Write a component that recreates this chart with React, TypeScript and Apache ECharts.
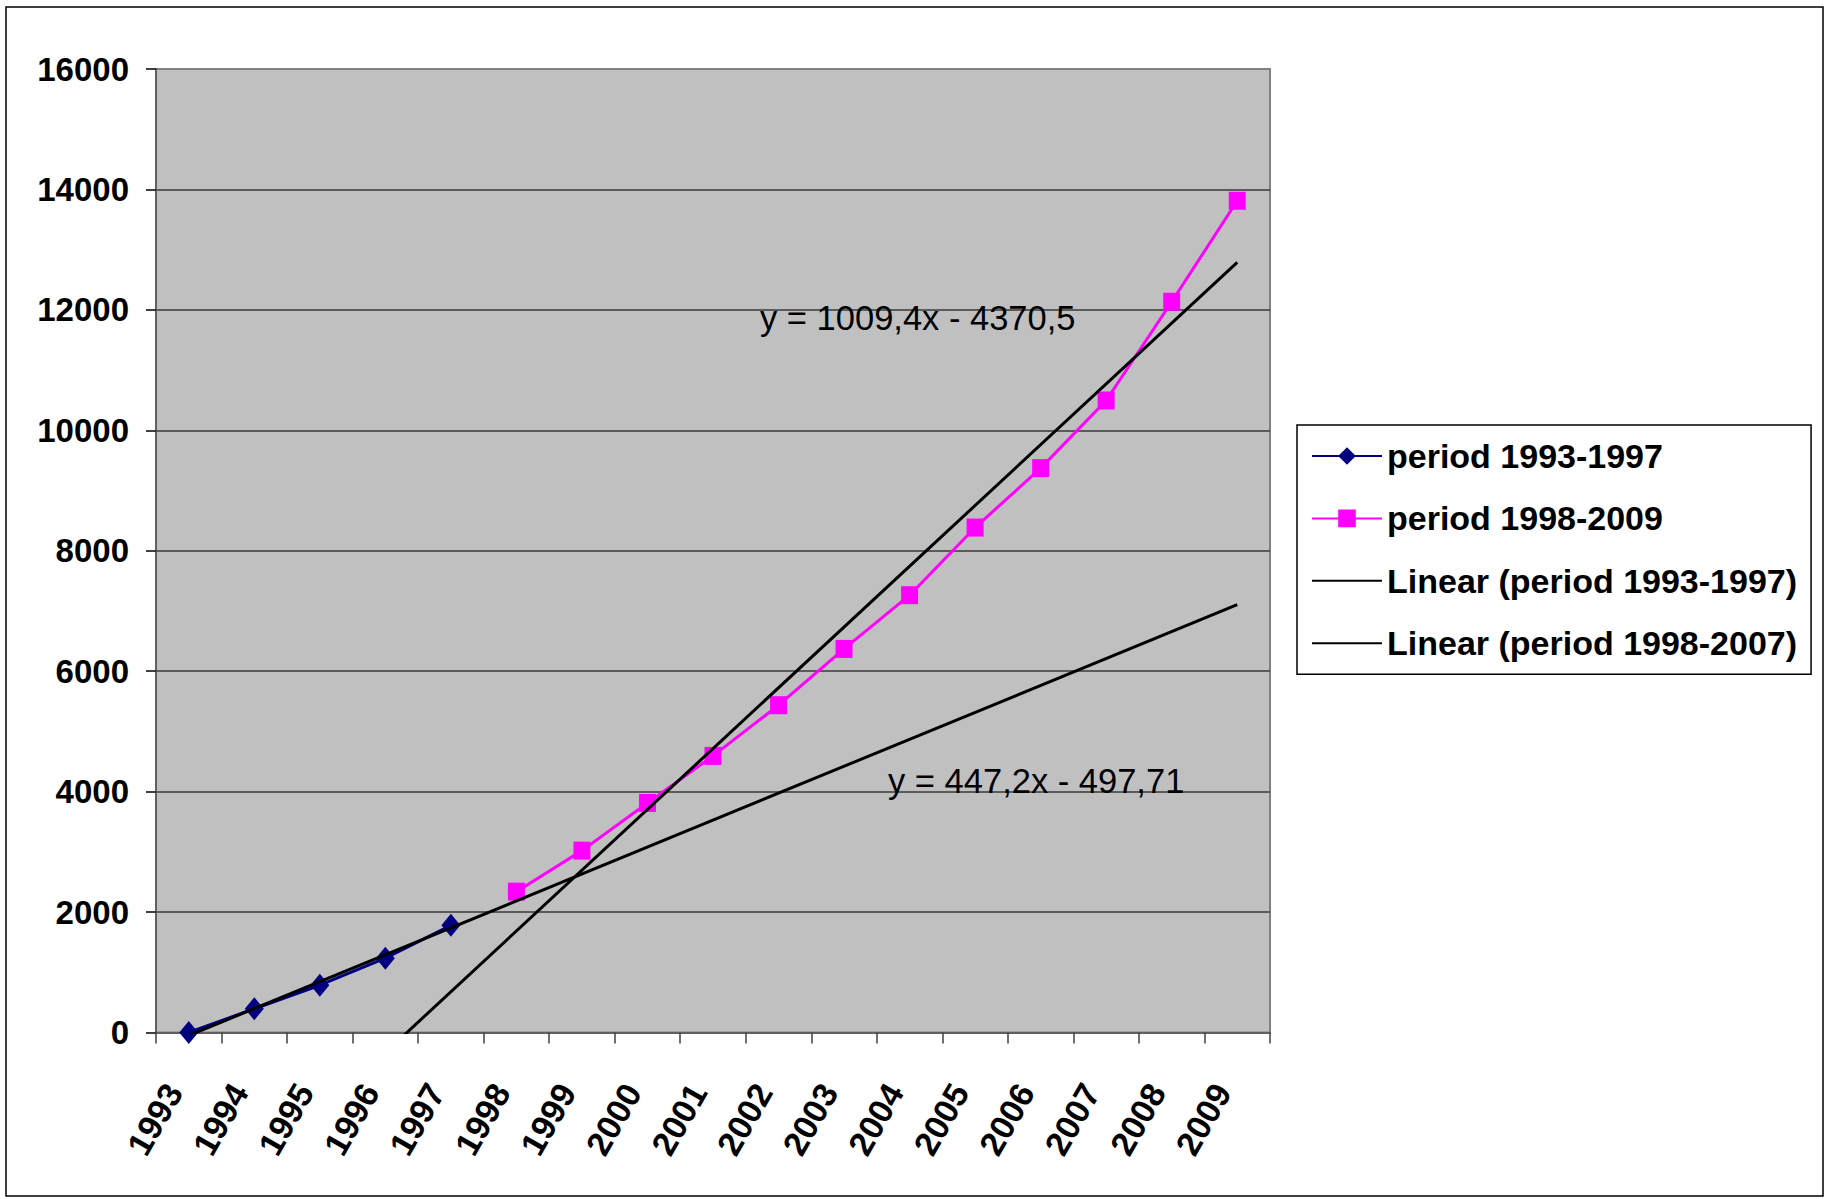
import { useEffect, useRef } from "react";
import * as echarts from "echarts";

const years = ["1993", "1994", "1995", "1996", "1997", "1998", "1999", "2000", "2001", "2002", "2003", "2004", "2005", "2006", "2007", "2008", "2009"];
const period1Values = [0, 395, 785, 1235, 1780];
const period2Values = [2339, 3020, 3812, 4593, 5435, 6370, 7262, 8385, 9372, 10495, 12135, 13812];
const seriesNames = ["period 1993-1997", "period 1998-2009", "Linear (period 1993-1997)", "Linear (period 1998-2007)"];
const trend1Coef = [447.2, -497.71];
const trend2Coef = [1009.4, -4370.5];
const equationLabels = ["y = 1009,4x - 4370,5", "y = 447,2x - 497,71"];
const yMin = 0;
const yMax = 16000;
const yStep = 2000;

const FONT = '"Liberation Sans", Arial, sans-serif';

function trendData(coef: number[]) {
  const last = years.length - 1;
  return years.map((_, i) => (i === 0 || i === last ? coef[0] * (i + 1) + coef[1] : null));
}

export default function App() {
  const ref = useRef<HTMLDivElement>(null);
  useEffect(() => {
    if (!ref.current) return;
    const chart = echarts.init(ref.current, null, { renderer: "svg" });
    const p1 = years.map((_, i) => (i < period1Values.length ? period1Values[i] : null));
    const off = years.length - period2Values.length;
    const p2 = years.map((_, i) => (i >= off ? period2Values[i - off] : null));
    chart.setOption({
      animation: false,
      backgroundColor: "#ffffff",
      textStyle: { fontFamily: FONT },
      grid: {
        left: 156,
        top: 69,
        width: 1114,
        height: 963.5,
        show: true,
        backgroundColor: "#C0C0C0",
        borderColor: "#808080",
        borderWidth: 2,
        containLabel: false,
      },
      legend: {
        orient: "vertical",
        left: 1297,
        top: 425,
        padding: [11, 14, 11, 14],
        itemWidth: 70,
        itemHeight: 22,
        itemGap: 22.4,
        itemTextGap: 10,
        borderColor: "#000",
        borderWidth: 1.5,
        backgroundColor: "#fff",
        data: [
          { name: seriesNames[0] },
          { name: seriesNames[1] },
          { name: seriesNames[2], itemStyle: { opacity: 0 } },
          { name: seriesNames[3], itemStyle: { opacity: 0 } },
        ],
        textStyle: { fontSize: 34, fontWeight: "bold", color: "#000", fontFamily: FONT, lineHeight: 40 },
      },
      xAxis: {
        type: "category",
        data: years,
        boundaryGap: true,
        axisLine: { show: true, lineStyle: { color: "#606060", width: 2 } },
        axisTick: { show: true, interval: 0, length: 11, lineStyle: { color: "#404040", width: 1.5 } },
        axisLabel: {
          interval: 0,
          rotate: 60,
          margin: 28,
          padding: [0, 30, 0, 0],
          fontSize: 34,
          fontWeight: "bold",
          color: "#000",
          fontFamily: FONT,
        },
        splitLine: { show: false },
      },
      yAxis: {
        type: "value",
        min: yMin,
        max: yMax,
        interval: yStep,
        axisLine: { show: true, lineStyle: { color: "#606060", width: 2 } },
        axisTick: { show: true, length: 10, lineStyle: { color: "#000", width: 1.5 } },
        axisLabel: {
          margin: 27,
          fontSize: 33,
          fontWeight: "bold",
          color: "#000",
          fontFamily: FONT,
          formatter: (v: number) => String(v),
        },
        splitLine: { show: true, showMinLine: false, showMaxLine: false, lineStyle: { color: "#3a3a3a", width: 1.5 } },
      },
      graphic: [
        {
          type: "rect",
          shape: { x: 6, y: 7, width: 1817, height: 1189 },
          style: { fill: "none", stroke: "#000", lineWidth: 1.5 },
          silent: true,
        },
        {
          type: "text",
          x: 760,
          y: 317.5,
          style: { text: equationLabels[0], font: '34.5px "Liberation Sans"', fill: "#000", align: "left", verticalAlign: "middle", textAlign: "left", textVerticalAlign: "middle" },
          z: 10,
        },
        {
          type: "text",
          x: 888,
          y: 781,
          style: { text: equationLabels[1], font: '34.5px "Liberation Sans"', fill: "#000", align: "left", verticalAlign: "middle", textAlign: "left", textVerticalAlign: "middle" },
          z: 10,
        },
      ],
      series: [
        {
          name: seriesNames[0],
          type: "line",
          data: p1,
          symbol: "diamond",
          symbolSize: [19, 23],
          showAllSymbol: true,
          lineStyle: { color: "#000080", width: 3 },
          itemStyle: { color: "#000080" },
          z: 2,
        },
        {
          name: seriesNames[1],
          type: "line",
          data: p2,
          symbol: "rect",
          symbolSize: [17, 18],
          showAllSymbol: true,
          lineStyle: { color: "#FF00FF", width: 3 },
          itemStyle: { color: "#FF00FF" },
          z: 2,
        },
        {
          name: seriesNames[2],
          type: "line",
          data: trendData(trend1Coef),
          connectNulls: true,
          symbol: "none",
          clip: true,
          lineStyle: { color: "#000", width: 3 },
          itemStyle: { color: "#000" },
          z: 3,
        },
        {
          name: seriesNames[3],
          type: "line",
          data: trendData(trend2Coef),
          connectNulls: true,
          symbol: "none",
          clip: true,
          lineStyle: { color: "#000", width: 3 },
          itemStyle: { color: "#000" },
          z: 3,
        },
      ],
    });
    return () => chart.dispose();
  }, []);
  return <div ref={ref} style={{ position: "absolute", left: 0, top: 0, width: 1828, height: 1199 }} />;
}
